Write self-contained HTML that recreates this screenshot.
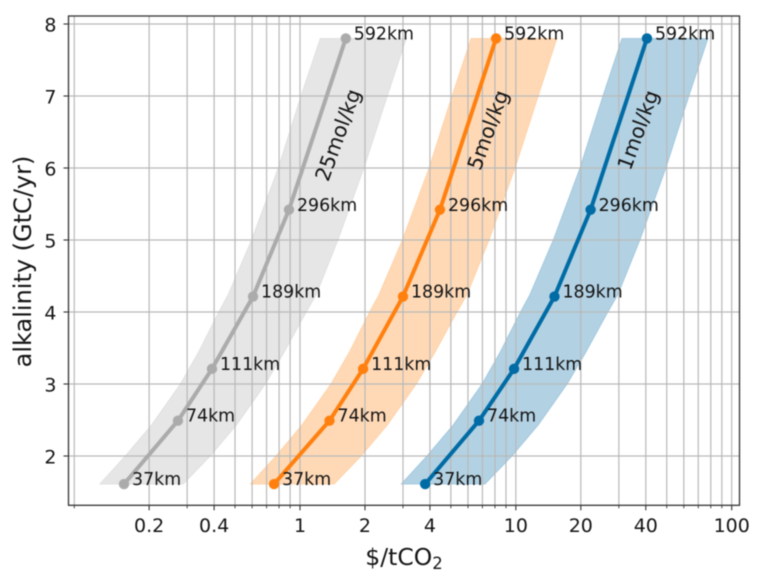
<!DOCTYPE html>
<html>
<head>
<meta charset="utf-8">
<style>
html,body{margin:0;padding:0;background:#fff;width:763px;height:583px;overflow:hidden}
svg{display:block;filter:blur(0.45px)}
text{font-family:"DejaVu Sans","Liberation Sans",sans-serif;fill:#141414}
</style>
</head>
<body>
<svg id="chart" xmlns="http://www.w3.org/2000/svg" width="763" height="583" viewBox="0 0 763 583">
  <text x="404" y="565" font-size="23.5" text-anchor="middle">$/tCO<tspan dy="4" font-size="16.5">2</tspan></text>
  <text x="0" y="0" font-size="24" text-anchor="middle" transform="translate(31 261.5) rotate(-90)">alkalinity (GtC/yr)</text>
</svg>
<script>
const distanceLabels = ['37km','74km','111km','189km','296km','592km'];
const alkalinity = [1.61,2.49,3.21,4.215,5.42,7.8];

const costGrey = [0.153,0.272,0.391,0.606,0.889,1.63];
const costOrange = [0.758,1.37,1.96,3.0,4.45,8.1];
const costBlue = [3.80,6.75,9.81,15.1,22.2,40.5];

const bandAlkalinity = [1.61,2.0,2.43,3.0,3.44,4.0,4.24,5.0,6.0,7.0,7.8];

const lowGrey = [0.118,0.155,0.205,0.279,0.338,0.42,0.464,0.596,0.792,1.01,1.24];
const highGrey = [0.288,0.384,0.508,0.692,0.844,1.07,1.19,1.5,1.98,2.54,3.11];

const lowOrange = [0.588,0.774,1.02,1.39,1.69,2.1,2.32,2.98,3.96,5.06,6.2];
const highOrange = [1.44,1.92,2.54,3.46,4.22,5.34,5.94,7.52,9.92,12.7,15.5];

const lowBlue = [2.94,3.87,5.12,6.97,8.44,10.5,11.6,14.9,19.8,25.3,31.0];
const highBlue = [7.20,9.6,12.7,17.3,21.1,26.7,29.7,37.6,49.6,63.4,77.7];

const xMajorTicks = [0.2,0.4,1,2,4,10,20,40,100];
const xMajorLabels = ['0.2','0.4','1','2','4','10','20','40','100'];
const xMinorTicks = [0.09,0.3,0.5,0.6,0.7,0.8,0.9,3,5,6,7,8,9,30,50,60,70,80,90];
const yTicks = [2,3,4,5,6,7,8];
const seriesNames = ['25mol/kg','5mol/kg','1mol/kg'];

const svg = document.getElementById('chart');
const NS = 'http://www.w3.org/2000/svg';
const L = 68.5, R = 739.5, T = 16, B = 505.3;
function xScale(v){ return 300 + Math.log10(v) * 215.85; }
function yScale(v){ return 456 - (v - 2) * 72; }
function make(tag, attrs, text){
  const el = document.createElementNS(NS, tag);
  for (const k in attrs) el.setAttribute(k, attrs[k]);
  if (text !== undefined) el.textContent = text;
  svg.appendChild(el);
  return el;
}

const seriesStyles = [
  {key:'grey', color:'#ABABAB', cost:costGrey, low:lowGrey, high:highGrey, lx:338, ly:135},
  {key:'orange', color:'#FF800E', cost:costOrange, low:lowOrange, high:highOrange, lx:488, ly:130},
  {key:'blue', color:'#006BA4', cost:costBlue, low:lowBlue, high:highBlue, lx:638, ly:130}
];

// bands under grid
seriesStyles.forEach(function(s){
  const pts = [];
  s.low.forEach(function(v,i){ pts.push(xScale(v).toFixed(2)+','+yScale(bandAlkalinity[i]).toFixed(2)); });
  for (let i = s.high.length - 1; i >= 0; i--) pts.push(xScale(s.high[i]).toFixed(2)+','+yScale(bandAlkalinity[i]).toFixed(2));
  const el = make('polygon', {points:pts.join(' '), fill:s.color, 'fill-opacity':0.3, stroke:s.color, 'stroke-opacity':0.2, 'stroke-width':1, 'stroke-linejoin':'round'});
  
  
});

// grid lines
xMinorTicks.concat(xMajorTicks).forEach(function(v){
  const el = make('line', {x1:xScale(v), x2:xScale(v), y1:T, y2:B, stroke:'#b8b8b8', 'stroke-width':1.2});
  
  
});
yTicks.forEach(function(v){
  const el = make('line', {x1:L, x2:R, y1:yScale(v), y2:yScale(v), stroke:'#b8b8b8', 'stroke-width':1.2});
  
  
});

// series
seriesStyles.forEach(function(s){
  const pts = s.cost.map(function(v,i){ return xScale(v).toFixed(2)+','+yScale(alkalinity[i]).toFixed(2); });
  const line = make('polyline', {points:pts.join(' '), fill:'none', stroke:s.color, 'stroke-width':4, 'stroke-linejoin':'round'});
  
  
  s.cost.forEach(function(v,i){
    const dot = make('circle', {cx:xScale(v), cy:yScale(alkalinity[i]), r:5.2, fill:s.color});
    
    
    const label = make('text', {x:xScale(v)+8, y:yScale(alkalinity[i])+1, 'font-size':17.4}, distanceLabels[i]);
    
    
  });
});
seriesStyles.forEach(function(s,i){
  const t = make('text', {x:0, y:7, 'font-size':20.5, 'text-anchor':'middle', transform:'translate('+s.lx+' '+s.ly+') rotate(-70)'}, seriesNames[i]);
  
  
});

// spines
const frame = make('rect', {x:L, y:T, width:R-L, height:B-T, fill:'none', stroke:'#333', 'stroke-width':1.3});



// ticks
xMajorTicks.forEach(function(v,i){
  const tick = make('line', {x1:xScale(v), x2:xScale(v), y1:B, y2:B+5, stroke:'#333', 'stroke-width':1.1});
  
  
  const label = make('text', {x:xScale(v), y:532, 'font-size':19, 'text-anchor':'middle'}, xMajorLabels[i]);
  
  
});
xMinorTicks.forEach(function(v){
  const tick = make('line', {x1:xScale(v), x2:xScale(v), y1:B, y2:B+3, stroke:'#333', 'stroke-width':0.9});
  
  
});
yTicks.forEach(function(v){
  const tick = make('line', {x1:L-5, x2:L, y1:yScale(v), y2:yScale(v), stroke:'#333', 'stroke-width':1.1});
  
  
  const label = make('text', {x:L-12, y:yScale(v)+7.5, 'font-size':19, 'text-anchor':'end'}, String(v));
  
  
});
</script>
</body>
</html>
